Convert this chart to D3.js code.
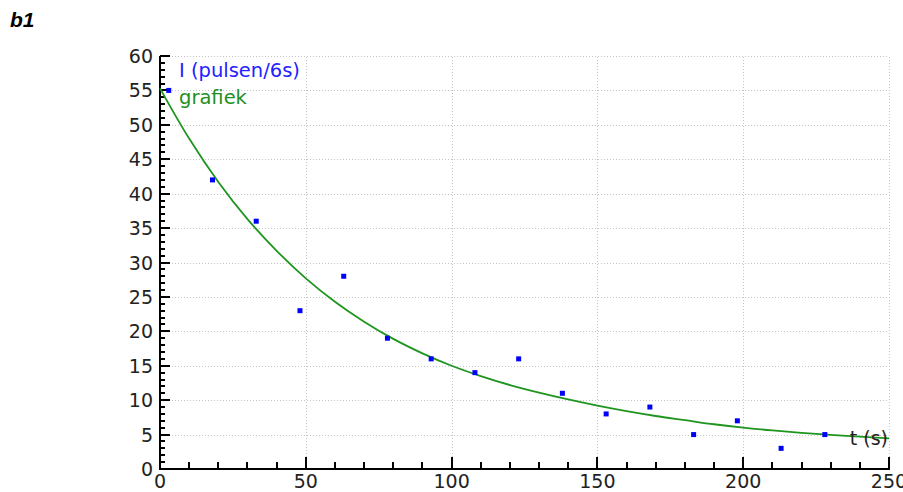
<!DOCTYPE html>
<html>
<head>
<meta charset="utf-8">
<script src="https://cdn.jsdelivr.net/npm/d3@7"></script>
<style>
  body { margin: 0; background: #fff; }
  svg { display: block; }
  text { font-family: "DejaVu Sans", sans-serif; }
</style>
</head>
<body>
<svg width="903" height="492"></svg>
<script>
// measured pulses
const tData = [3, 18, 33, 48, 63, 78, 93, 108, 123, 138, 153, 168, 183, 198, 213, 228];
const iData = [55, 42, 36, 23, 28, 19, 16, 14, 16, 11, 8, 9, 5, 7, 3, 5];

const tCurve = [0, 10, 20, 30, 40, 50, 60, 70, 80, 90, 100, 110, 120, 130, 140, 150, 160, 170, 180, 190, 200, 210, 220, 230, 240, 250];
const iCurve = [55.3, 48.0, 41.7, 36.3, 31.7, 27.7, 24.3, 21.4, 18.9, 16.8, 15.0, 13.5, 12.2, 11.1, 10.1, 9.2, 8.4, 7.7, 7.1, 6.5, 6.0, 5.6, 5.25, 4.95, 4.7, 4.45];

const xTicks = [0, 50, 100, 150, 200, 250];
const yTicks = [0, 5, 10, 15, 20, 25, 30, 35, 40, 45, 50, 55, 60];

const svg = d3.select("svg");

const x = d3.scaleLinear().domain([0, 250]).range([160, 889]);
const y = d3.scaleLinear().domain([0, 60]).range([469, 56]);

// title
svg.append("text")
    .attr("x", 10).attr("y", 27)
    .style("font-family", "'Liberation Sans', Arial, sans-serif")
    .style("font-weight", "bold").style("font-style", "italic")
    .style("font-size", "21px")
    .text("b1");

// grid
const grid = svg.append("g")
    .attr("stroke", "#c4c4c4").attr("stroke-width", 1)
    .attr("stroke-dasharray", "1,2");

grid.selectAll("line.h")
    .data(yTicks.filter(d => d > 0))
    .enter().append("line")
    .attr("x1", x(0)).attr("x2", x(250))
    .attr("y1", d => Math.round(y(d)) + 0.5).attr("y2", d => Math.round(y(d)) + 0.5);

grid.selectAll("line.v")
    .data(xTicks.filter(d => d > 0))
    .enter().append("line")
    .attr("y1", y(0)).attr("y2", y(60))
    .attr("x1", d => Math.round(x(d)) + 0.5).attr("x2", d => Math.round(x(d)) + 0.5);

// y axis, ticks pointing inward
const yAx = svg.append("g").attr("transform", `translate(${x(0)},0)`);
yAx.append("line").attr("x1", 0).attr("x2", 0)
    .attr("y1", y(0) + 1).attr("y2", y(60))
    .attr("stroke", "#000").attr("stroke-width", 2);
yAx.selectAll("line.t")
    .data(d3.range(0, 61))
    .enter().append("line")
    .attr("x1", 0).attr("x2", d => d % 5 === 0 ? 10 : 5)
    .attr("y1", d => Math.round(y(d))).attr("y2", d => Math.round(y(d)))
    .attr("stroke", "#000").attr("stroke-width", 2);
yAx.selectAll("text")
    .data(yTicks)
    .enter().append("text")
    .attr("x", -7).attr("y", d => y(d) + 7)
    .attr("text-anchor", "end")
    .style("font-size", "19px").attr("fill", "#222")
    .text(d => d);

// x axis
const xAx = svg.append("g").attr("transform", `translate(0,${y(0)})`);
xAx.append("line").attr("x1", x(0) - 1).attr("x2", x(250) + 1)
    .attr("y1", 0).attr("y2", 0)
    .attr("stroke", "#000").attr("stroke-width", 2);
xAx.selectAll("line.t")
    .data(d3.range(0, 251, 10))
    .enter().append("line")
    .attr("x1", d => Math.round(x(d))).attr("x2", d => Math.round(x(d)))
    .attr("y1", 0).attr("y2", d => d % 50 === 0 ? -12 : -7)
    .attr("stroke", "#000").attr("stroke-width", 2);
xAx.selectAll("text")
    .data(xTicks)
    .enter().append("text")
    .attr("x", d => x(d)).attr("y", 19)
    .attr("text-anchor", "middle")
    .style("font-size", "19px").attr("fill", "#222")
    .text(d => d);

// fitted line
const line = d3.line()
    .x((d, i) => x(tCurve[i]))
    .y(d => y(d))
    .curve(d3.curveCatmullRom);

svg.append("path")
    .datum(iCurve)
    .attr("d", line)
    .attr("fill", "none")
    .attr("stroke", "#1f951f")
    .attr("stroke-width", 1.8);

// data points
svg.selectAll("rect.pt")
    .data(iData)
    .enter().append("rect")
    .attr("x", (d, i) => x(tData[i]) - 2.5)
    .attr("y", d => y(d) - 2.5)
    .attr("width", 5).attr("height", 5)
    .attr("fill", "#0000ff");

// legend
svg.append("text")
    .attr("x", 179).attr("y", 77)
    .style("font-size", "19.5px").attr("fill", "#2222ff")
    .text("I (pulsen/6s)");
svg.append("text")
    .attr("x", 179).attr("y", 104)
    .style("font-size", "19.5px").attr("fill", "#1f8f1f")
    .text("grafiek");

// axis title
svg.append("text")
    .attr("x", x(250) - 1).attr("y", y(5) + 10)
    .attr("text-anchor", "end")
    .style("font-size", "19px").attr("fill", "#222")
    .text("t (s)");
</script>
</body>
</html>
